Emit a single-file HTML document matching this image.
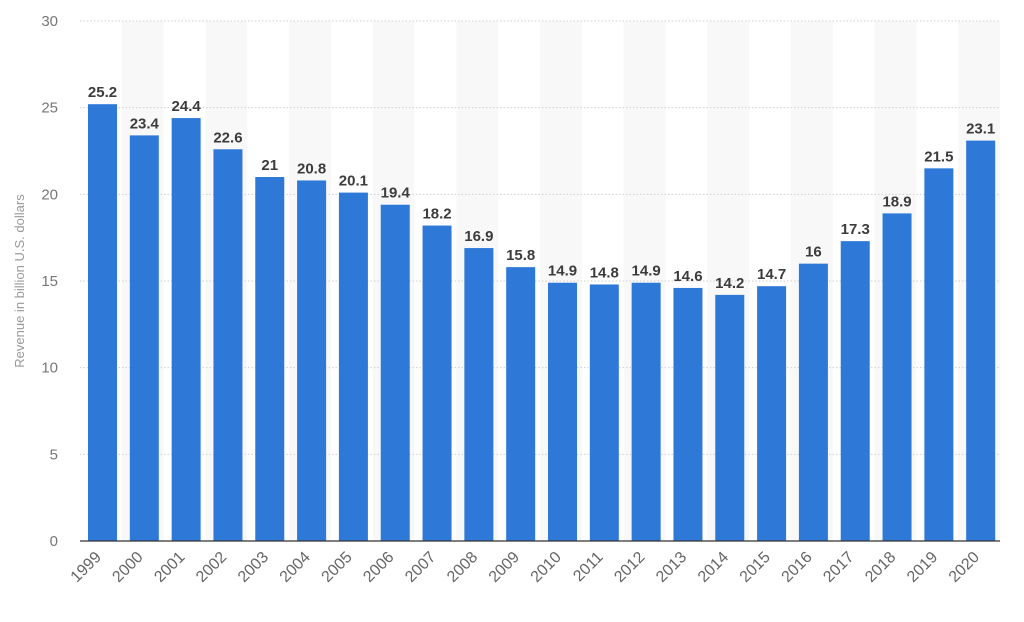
<!DOCTYPE html>
<html><head><meta charset="utf-8"><style>
body{margin:0;background:#fff;}
svg{display:block;font-family:"Liberation Sans",sans-serif;}
</style></head><body>
<svg width="1024" height="622" viewBox="0 0 1024 622">
<script>
const ns="http://www.w3.org/2000/svg";
const vals=[25.2,23.4,24.4,22.6,21,20.8,20.1,19.4,18.2,16.9,15.8,14.9,14.8,14.9,14.6,14.2,14.7,16,17.3,18.9,21.5,23.1];
const svg=document.querySelector("svg");
function el(t,a,txt,p){const e=document.createElementNS(ns,t);for(const k in a)e.setAttribute(k,a[k]);if(txt!=null)e.textContent=txt;(p||svg).appendChild(e);return e;}
const L=80,R=1000,Y0=541,S=520/30,W=(R-L)/22;
for(let i=0;i<22;i++){if(i%2==1)el("rect",{x:L+i*W,y:21,width:W,height:520,fill:"#f8f8f8"});}
for(let v=5;v<=30;v+=5){const y=Y0-v*S;el("line",{x1:L,x2:R,y1:y,y2:y,stroke:"#cfcfcf","stroke-dasharray":"1.5,2"});}
for(let v=0;v<=30;v+=5){const y=Y0-v*S;el("text",{x:58,y:y+5,"text-anchor":"end","font-size":"15",fill:"#777"},String(v));}
vals.forEach((v,i)=>{const x=L+i*W+8,h=v*S;el("rect",{x:x,y:Y0-h,width:29,height:h,fill:"#2e78d8"});
el("text",{x:x+14.5,y:Y0-h-7,"text-anchor":"middle","font-size":"15","font-weight":"bold",fill:"#3c3c3c"},String(v));
const cx=x+14,cy=Y0+17;el("text",{x:cx,y:cy,"text-anchor":"end","font-size":"16",fill:"#666",transform:`rotate(-45 ${cx} ${cy})`},String(1999+i));});
el("line",{x1:L,x2:R,y1:Y0,y2:Y0,stroke:"#333","stroke-width":"1.3"});
el("text",{x:24,y:281,"text-anchor":"middle","font-size":"13",fill:"#999",transform:"rotate(-90 24 281)"},"Revenue in billion U.S. dollars");
</script>
</svg>
</body></html>
